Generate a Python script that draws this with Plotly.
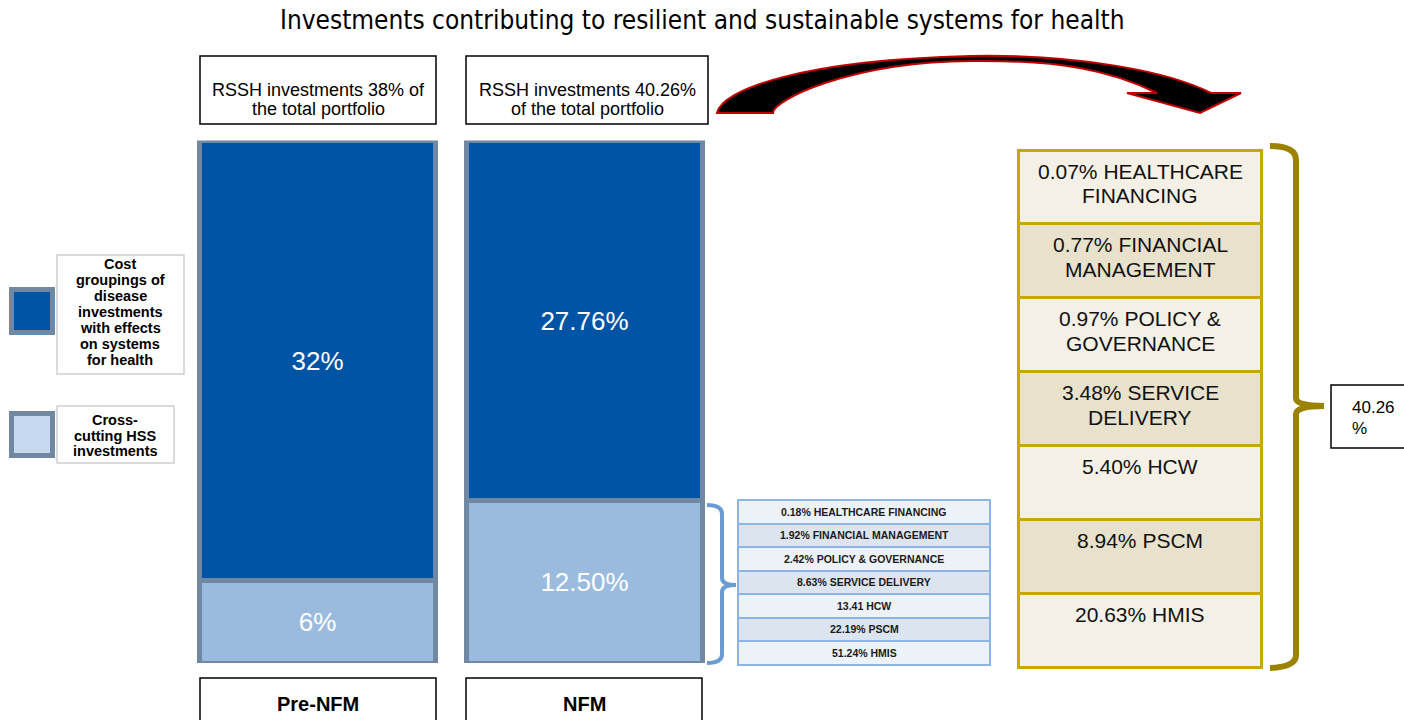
import plotly.graph_objects as go

# ---------------- data ----------------
categories = ["Pre-NFM", "NFM"]
disease_share = [32, 27.76]          # cost groupings of disease investments (% of portfolio)
crosscutting_share = [6, 12.50]      # cross-cutting HSS investments (% of portfolio)
label_decimals = [0, 2]
top_box_lines = [["RSSH investments 38% of", "the total portfolio"],
                 ["RSSH investments 40.26%", "of the total portfolio"]]

modules = ["HEALTHCARE FINANCING", "FINANCIAL MANAGEMENT", "POLICY & GOVERNANCE",
           "SERVICE DELIVERY", "HCW", "PSCM", "HMIS"]
share_of_crosscutting = [0.18, 1.92, 2.42, 8.63, 13.41, 22.19, 51.24]
crosscutting_pct_sign = ["%", "%", "%", "%", "", "%", "%"]
share_of_rssh = [0.07, 0.77, 0.97, 3.48, 5.40, 8.94, 20.63]
nfm_rssh_total = 40.26

title = "Investments contributing to resilient and sustainable systems for health"
legend_dark_lines = ["Cost", "groupings of", "disease", "investments",
                     "with effects", "on systems", "for health"]
legend_light_lines = ["Cross-", "cutting HSS", "investments"]

# ---------------- styles ----------------
W, H = 1404, 720
DARK = "#0054A6"
LIGHT = "#9BBBDE"
BORDER = "#7088A2"
FONT = "Arial, Liberation Sans, Helvetica, sans-serif"

fig = go.Figure()

# stacked, normalised bars
for vals, color in [(crosscutting_share, LIGHT), (disease_share, DARK)]:
    fig.add_trace(go.Bar(
        x=categories, y=vals,
        marker=dict(color=color, line=dict(color=BORDER, width=5)),
        text=[f"{v:.{d}f}%" for v, d in zip(vals, label_decimals)],
        textposition="inside", insidetextanchor="middle", textangle=0,
        constraintext="none",
        textfont=dict(color="white", size=26, family=FONT),
        hoverinfo="skip", showlegend=False))

# overlay pixel axes for decorations
fig.add_trace(go.Scatter(x=[None], y=[None], xaxis="x2", yaxis="y2",
                         showlegend=False, hoverinfo="skip"))

shapes = []
annotations = []

def rect(x0, y0, x1, y1, line_color, lw, fill="rgba(0,0,0,0)"):
    shapes.append(dict(type="rect", xref="x2", yref="y2", x0=x0, y0=y0, x1=x1, y1=y1,
                       line=dict(color=line_color, width=lw), fillcolor=fill, layer="above"))

def text(x, y, s, size, bold=False, color="black", xanchor="center", family=FONT):
    annotations.append(dict(xref="x2", yref="y2", x=x, y=y, text=s, showarrow=False,
                            xanchor=xanchor, yanchor="middle",
                            font=dict(family=family, size=size, color=color,
                                      weight="bold" if bold else "normal")))

# small breakdown table (share of cross-cutting HSS)
small_text = [f"{v:.2f}{s} {m}" for v, s, m in
              zip(share_of_crosscutting, crosscutting_pct_sign, modules)]
small_fill = ["#EDF1F8" if i % 2 == 0 else "#DCE4F0" for i in range(len(small_text))]
small_line = dict(color="#8EB4E3", width=2)
SMALL_X0, SMALL_X1, SMALL_TOP, SMALL_ROW = 738, 990, 500, 23.5
fig.add_trace(go.Table(
    domain=dict(x=[SMALL_X0 / W, SMALL_X1 / W], y=[0.0, 1 - SMALL_TOP / H]),
    header=dict(values=[""], fill=dict(color=small_fill[0]), line=small_line,
                height=SMALL_ROW),
    cells=dict(values=[[""] * (len(small_text) - 1)], fill=dict(color=[small_fill[1:]]),
               line=small_line, height=SMALL_ROW)))
for i, s in enumerate(small_text):
    text((SMALL_X0 + SMALL_X1) / 2, SMALL_TOP + SMALL_ROW * (i + 0.5), s, 10.5,
         bold=True, color="#1a1a1a")

# big breakdown table (share of total portfolio)
big_lines = []
for v, m in zip(share_of_rssh, modules):
    parts = m.rsplit(" ", 1)
    if len(parts) == 2:
        big_lines.append([f"{v:.2f}% {parts[0]}", parts[1]])
    else:
        big_lines.append([f"{v:.2f}% {m}"])
big_fill = ["#F4F0E5" if i % 2 == 0 else "#E8E1CB" for i in range(len(big_lines))]
big_line = dict(color="#C8A800", width=3)
BIG_X0, BIG_X1, BIG_TOP, BIG_ROW = 1018, 1262, 150, 73.9
fig.add_trace(go.Table(
    domain=dict(x=[BIG_X0 / W, BIG_X1 / W], y=[0.0, 1 - BIG_TOP / H]),
    header=dict(values=[""], fill=dict(color=big_fill[0]), line=big_line, height=BIG_ROW),
    cells=dict(values=[[""] * (len(big_lines) - 1)], fill=dict(color=[big_fill[1:]]),
               line=big_line, height=BIG_ROW)))
for i, lines in enumerate(big_lines):
    top = BIG_TOP + i * BIG_ROW
    for j, ln in enumerate(lines):
        text((BIG_X0 + BIG_X1) / 2, top + 21 + 24.5 * j, ln, 21, color="#111111")

# title
text(W / 2, 20, title, 26, family="DejaVu Sans Condensed, Arial Narrow, Liberation Sans Narrow, Arial")

# top boxes
for (x0, x1), lines in zip([(200, 436), (466, 708)], top_box_lines):
    rect(x0, 56, x1, 124, "black", 1.5)
    for i, ln in enumerate(lines):
        text((x0 + x1) / 2, 90 + 19 * i, ln, 18)

# bottom category boxes
for (x0, x1), cat in zip([(200, 436), (466, 702)], categories):
    rect(x0, 678, x1, 740, "black", 1.5)
    text((x0 + x1) / 2, 704, cat, 20, bold=True)

# legend
rect(11.5, 289.5, 52.5, 332.5, BORDER, 5, DARK)
rect(11.5, 413.5, 52.5, 455.5, BORDER, 5, "#C6D9F0")
rect(57, 255, 184, 374, "#D0D0D0", 1.5, "white")
rect(57, 406, 174, 463, "#D0D0D0", 1.5, "white")
for i, ln in enumerate(legend_dark_lines):
    text(120, 264 + 16 * i, ln, 14.5, bold=True)
for i, ln in enumerate(legend_light_lines):
    text(115, 420 + 15.5 * i, ln, 14.5, bold=True)

# brackets
shapes.append(dict(type="path", xref="x2", yref="y2", layer="above",
                   path="M 707,505 Q 722,505 722,514 L 722,578 Q 722,585 736,585 "
                        "Q 722,585 722,592 L 722,654 Q 722,663 707,663",
                   line=dict(color="#6A9BD1", width=4)))
shapes.append(dict(type="path", xref="x2", yref="y2", layer="above",
                   path="M 1270,146 Q 1296,146 1296,160 L 1296,398 Q 1296,406 1324,406 "
                        "Q 1296,406 1296,414 L 1296,655 Q 1296,667 1270,668",
                   line=dict(color="#9B8200", width=6)))

# curved arrow
shapes.append(dict(type="path", xref="x2", yref="y2", layer="above",
                   path="M 717,113 C 722,90 800,60 971,56 C 1080,54 1170,72 1211,93 "
                        "L 1241,93 L 1200,113 L 1127,93 L 1157,93 "
                        "C 1110,70 1060,60 971,61 C 850,62 773,100 773,113 Z",
                   fillcolor="black", line=dict(color="#C00000", width=2)))

# total box
rect(1331, 385, 1415, 448, "black", 1.5, "white")
text(1350, 407, f"{nfm_rssh_total:.2f}", 17, xanchor="left")
text(1350, 428, "%", 17, xanchor="left")

fig.update_layout(
    width=W, height=H, autosize=False,
    margin=dict(l=0, r=0, t=0, b=0),
    paper_bgcolor="white", plot_bgcolor="rgba(0,0,0,0)",
    barmode="stack", barnorm="percent", bargap=0.116,
    xaxis=dict(domain=[184 / W, 718 / W], visible=False, fixedrange=True),
    yaxis=dict(domain=[1 - 663 / H, 1 - 140.5 / H], range=[0, 100], visible=False,
               fixedrange=True),
    xaxis2=dict(domain=[0, 1], range=[0, W], visible=False, anchor="y2", fixedrange=True),
    yaxis2=dict(domain=[0, 1], range=[H, 0], visible=False, anchor="x2", fixedrange=True),
    shapes=shapes, annotations=annotations,
    font=dict(family=FONT),
)

fig.write_html("out.html", config={"displayModeBar": False},
               post_script="document.body.style.margin='0';document.body.style.overflow='hidden';")
